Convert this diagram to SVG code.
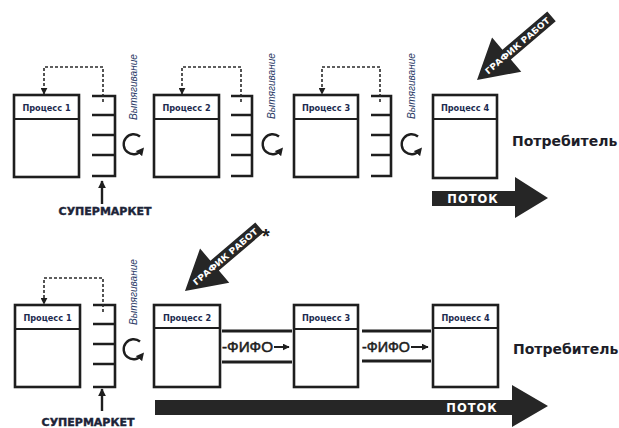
<svg xmlns="http://www.w3.org/2000/svg" width="619" height="428" viewBox="0 0 619 428">
<defs>
<style>
.box{fill:#fff;stroke:#1e1e1e;stroke-width:2.6}
.hd{stroke:#1e1e1e;stroke-width:2.2}
.sm{fill:none;stroke:#1e1e1e;stroke-width:2.6}
.dash{fill:none;stroke:#2a2a2a;stroke-width:1.6;stroke-dasharray:3 2}
.circ{fill:none;stroke:#1e1e1e;stroke-width:2.4}
.fifo{stroke:#1e1e1e;stroke-width:2.8}
.lbl{font-family:"DejaVu Sans","Liberation Sans",sans-serif;font-weight:bold;font-size:8.2px;fill:#1d2b4f;text-anchor:middle}
.pull{font-family:"Liberation Sans",Arial,sans-serif;font-style:italic;font-size:10px;fill:#2a3a66;text-anchor:middle}
.sup{font-family:"DejaVu Sans","Liberation Sans",sans-serif;font-weight:bold;font-size:11px;fill:#1d2438;stroke:#1d2438;stroke-width:0.4;text-anchor:middle}
.cons{font-family:"DejaVu Sans","Liberation Sans",sans-serif;font-weight:bold;font-size:14px;fill:#1d1d28}
.flowt{font-family:"DejaVu Sans","Liberation Sans",sans-serif;font-weight:bold;font-size:11.5px;letter-spacing:1px;fill:#fff;text-anchor:middle}
.fifot{font-family:"Liberation Sans",Arial,sans-serif;font-size:14px;fill:#1e1e1e;stroke:#1e1e1e;stroke-width:0.5}
.sched{font-family:"DejaVu Sans","Liberation Sans",sans-serif;font-weight:bold;font-size:8.5px;fill:#fff;text-anchor:middle}
.dark{fill:#262626}
</style>
<marker id="ah" viewBox="0 0 10 10" refX="9" refY="5" markerWidth="7" markerHeight="7" markerUnits="userSpaceOnUse" orient="auto"><path d="M0,0 L10,5 L0,10 Z" fill="#1e1e1e"/></marker>
<marker id="ahs" viewBox="0 0 10 10" refX="9" refY="5" markerWidth="8" markerHeight="8" markerUnits="userSpaceOnUse" orient="auto"><path d="M0,0 L10,5 L0,10 Z" fill="#1e1e1e"/></marker>
<marker id="ahc" viewBox="0 0 10 10" refX="5" refY="5" markerWidth="8" markerHeight="8" markerUnits="userSpaceOnUse" orient="auto"><path d="M0,0 L10,5 L0,10 Z" fill="#1e1e1e"/></marker>
<g id="schedArrow">
<path class="dark" d="M0,0 L39,-22.5 L39,-6.5 L98,-6.5 L98,6.5 L39,6.5 L39,22.5 Z"/>
<text class="sched" x="53" y="3.2" textLength="82" lengthAdjust="spacingAndGlyphs">ГРАФИК РАБОТ</text>
</g>
</defs>
<rect width="619" height="428" fill="#fff"/>

<!-- TOP ROW -->
<g id="top-p1"><rect class="box" x="14" y="95" width="65" height="82"/><line class="hd" x1="14" y1="119" x2="79" y2="119"/><text class="lbl" x="46.5" y="111">Процесс 1</text></g>
<g id="top-p2"><rect class="box" x="154" y="95" width="65" height="82"/><line class="hd" x1="154" y1="119" x2="219" y2="119"/><text class="lbl" x="186.5" y="111">Процесс 2</text></g>
<g id="top-p3"><rect class="box" x="294" y="95" width="64" height="82"/><line class="hd" x1="294" y1="119" x2="358" y2="119"/><text class="lbl" x="326" y="111">Процесс 3</text></g>
<g id="top-p4"><rect class="box" x="433" y="95" width="64" height="83"/><line class="hd" x1="433" y1="119" x2="497" y2="119"/><text class="lbl" x="465" y="111">Процесс 4</text></g>

<g id="top-sm1"><path class="sm" d="M92,96 H115 V176 H92 M92,115 H115 M92,135 H115 M92,155 H115"/></g>
<g id="top-sm2"><path class="sm" d="M231,96 H252 V176 H231 M231,115 H252 M231,135 H252 M231,155 H252"/></g>
<g id="top-sm3"><path class="sm" d="M371,96 H391 V176 H371 M371,115 H391 M371,135 H391 M371,155 H391"/></g>

<g id="top-pull">
<text class="pull" transform="translate(137,87) rotate(-90)" textLength="66" lengthAdjust="spacingAndGlyphs">Вытягивание</text>
<text class="pull" transform="translate(275,86) rotate(-90)" textLength="66" lengthAdjust="spacingAndGlyphs">Вытягивание</text>
<text class="pull" transform="translate(415,86) rotate(-90)" textLength="66" lengthAdjust="spacingAndGlyphs">Вытягивание</text>
</g>

<g id="top-sup">
<text class="sup" x="105" y="215">СУПЕРМАРКЕТ</text>
</g>
<g id="top-consumer"><text class="cons" x="512" y="146">Потребитель</text></g>

<g id="top-flow">
<path class="dark" d="M432,191 H515 V177 L548,198 L515,218 V206 H432 Z"/>
<text class="flowt" x="473" y="203">ПОТОК</text>
</g>
<g id="top-schedule"><use href="#schedArrow" transform="translate(477,80) rotate(-40.5)"/></g>

<!-- BOTTOM ROW -->
<g id="bot-p1"><rect class="box" x="15" y="305" width="65" height="82"/><line class="hd" x1="15" y1="329" x2="80" y2="329"/><text class="lbl" x="47.5" y="321">Процесс 1</text></g>
<g id="bot-p2"><rect class="box" x="154" y="305" width="66" height="82"/><line class="hd" x1="154" y1="328" x2="220" y2="328"/><text class="lbl" x="187" y="320.5">Процесс 2</text></g>
<g id="bot-p3"><rect class="box" x="294" y="305" width="64" height="82"/><line class="hd" x1="294" y1="329" x2="358" y2="329"/><text class="lbl" x="326" y="321">Процесс 3</text></g>
<g id="bot-p4"><rect class="box" x="433" y="305" width="65" height="82"/><line class="hd" x1="433" y1="328" x2="498" y2="328"/><text class="lbl" x="465.5" y="320.5">Процесс 4</text></g>

<g id="bot-sm1"><path class="sm" d="M93,305 H115 V387 H93 M93,324 H115 M93,344 H115 M93,364 H115"/></g>

<g id="bot-pull">
<text class="pull" transform="translate(137,292) rotate(-90)" textLength="66" lengthAdjust="spacingAndGlyphs">Вытягивание</text>
</g>
<g id="bot-sup"><text class="sup" x="88" y="426">СУПЕРМАРКЕТ</text></g>
<g id="bot-consumer"><text class="cons" x="513" y="354">Потребитель</text></g>

<g id="bot-flow">
<path class="dark" d="M155,400 H512 V385 L548,406 L512,427 V415 H155 Z"/>
<text class="flowt" x="472" y="412">ПОТОК</text>
</g>
<g id="bot-schedule"><use href="#schedArrow" transform="translate(185,291) rotate(-40.5)"/>
<text x="266" y="243" font-family="Liberation Sans, Arial, sans-serif" font-weight="bold" font-size="20" fill="#1e1e1e" text-anchor="middle">*</text></g>

<g id="fifo-labels">
<text class="fifot" x="222" y="352" textLength="51" lengthAdjust="spacingAndGlyphs">-ФИФО</text>
<text class="fifot" x="362" y="352" textLength="48" lengthAdjust="spacingAndGlyphs">-ФИФО</text>
</g>

<!-- CONNECTORS -->
<g id="connectors">
<path class="dash" d="M103,102 V67 H44 V94" marker-end="url(#ah)"/>
<path class="dash" d="M241,102 V67 H182 V94" marker-end="url(#ah)"/>
<path class="dash" d="M380,102 V67 H322 V94" marker-end="url(#ah)"/>
<path class="dash" d="M103,312 V278 H44 V304" marker-end="url(#ah)"/>

<path class="circ" d="M140,136.5 A10,10 0 1 0 141.5,150.5" marker-end="url(#ahc)"/>
<path class="circ" d="M279,136.5 A10,10 0 1 0 280.5,150.5" marker-end="url(#ahc)"/>
<path class="circ" d="M418,136.5 A10,10 0 1 0 419.5,150.5" marker-end="url(#ahc)"/>
<path class="circ" d="M140,341.5 A10,10 0 1 0 141.5,355.5" marker-end="url(#ahc)"/>

<path d="M102,204 V181" stroke="#1e1e1e" stroke-width="2.4" marker-end="url(#ahs)"/>
<path d="M102,411 V389" stroke="#1e1e1e" stroke-width="2.4" marker-end="url(#ahs)"/>

<line class="fifo" x1="222" y1="331" x2="292" y2="331"/>
<line class="fifo" x1="222" y1="362" x2="292" y2="362"/>
<path d="M274,347 H289" stroke="#1e1e1e" stroke-width="2" marker-end="url(#ah)"/>
<line class="fifo" x1="362" y1="331" x2="431" y2="331"/>
<line class="fifo" x1="362" y1="361" x2="431" y2="361"/>
<path d="M411,347 H428" stroke="#1e1e1e" stroke-width="2" marker-end="url(#ah)"/>
</g>
</svg>
